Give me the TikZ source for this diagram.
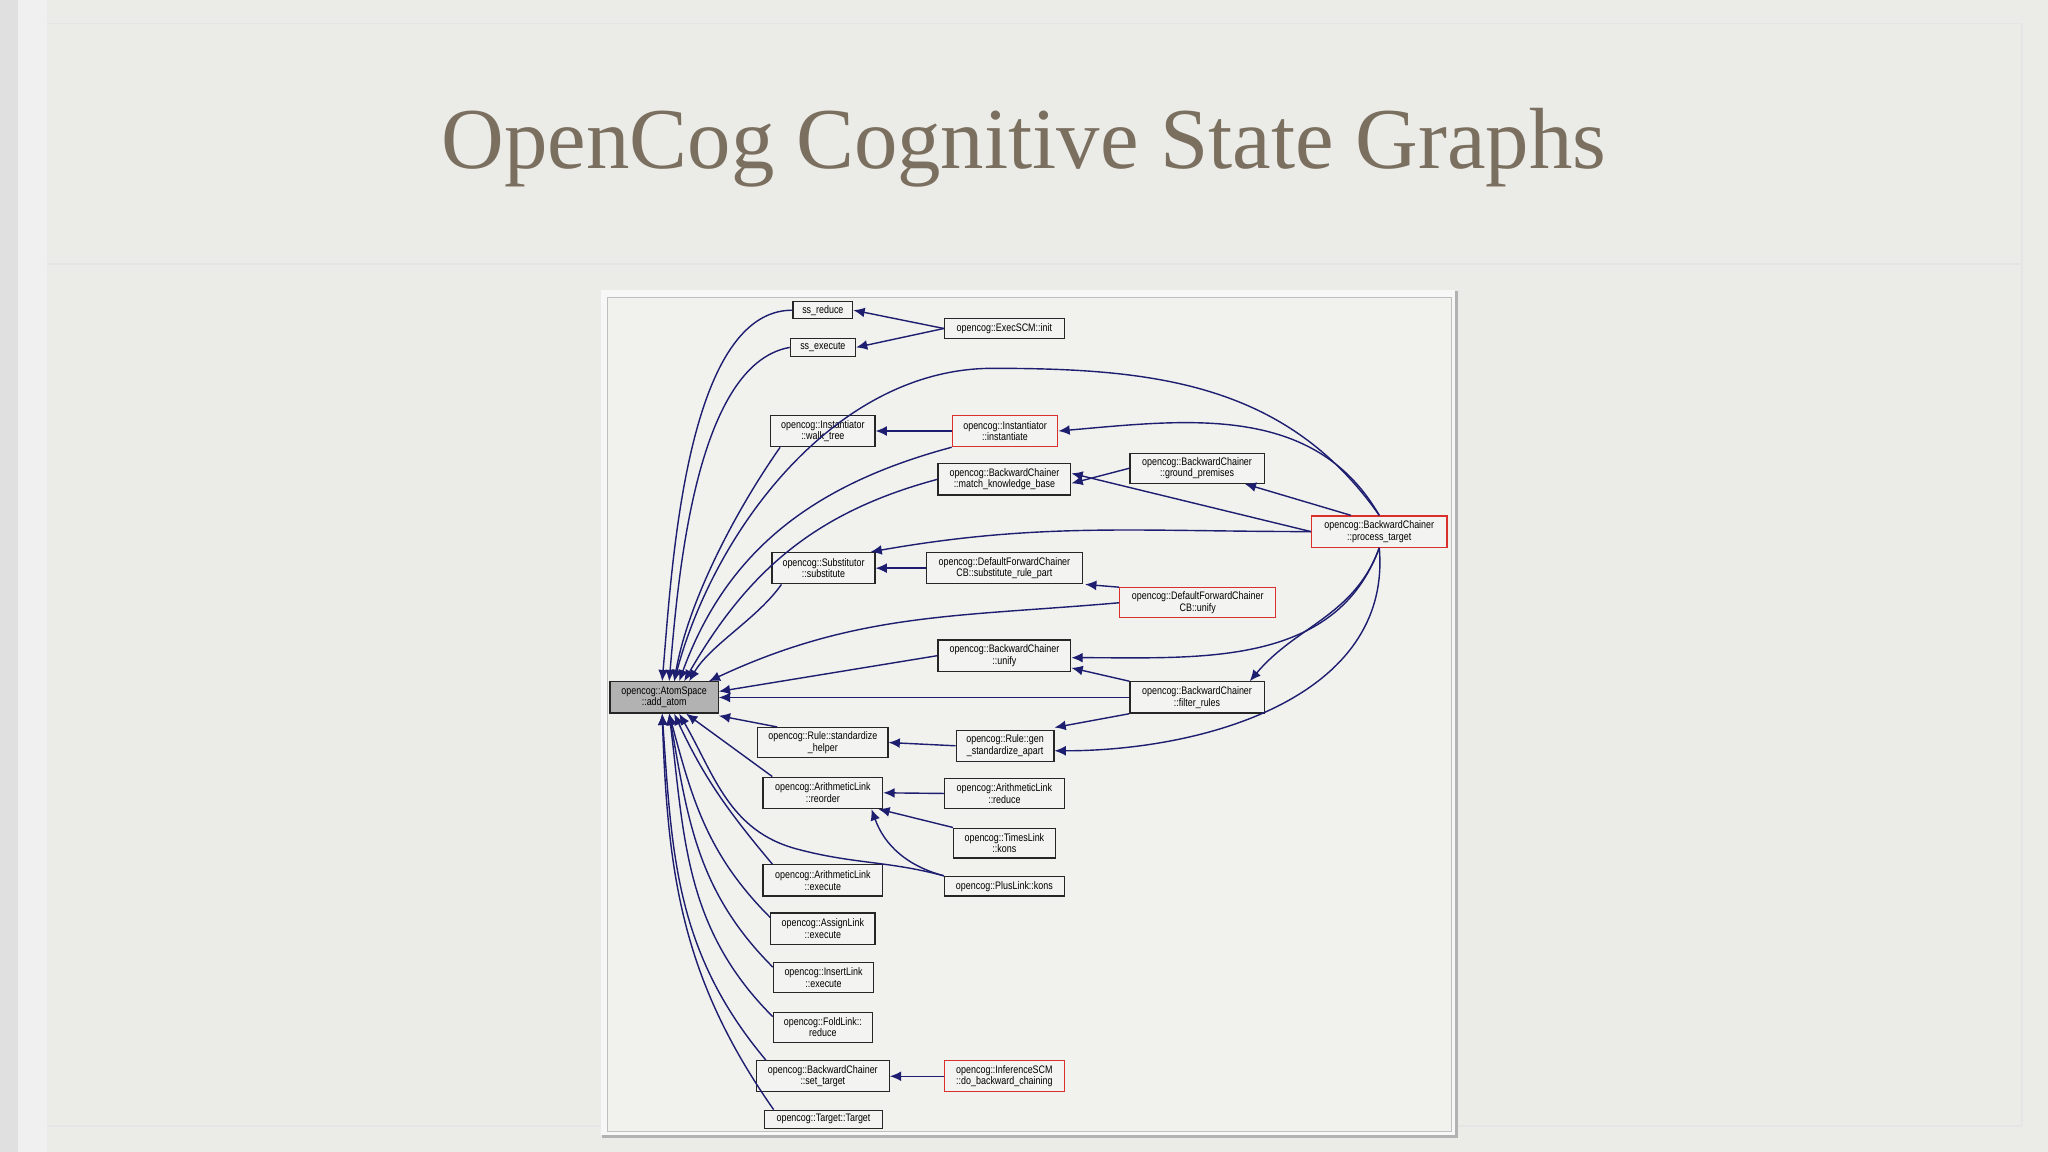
\documentclass[tikz,border=0pt]{standalone}
\usepackage{fontspec}
\setmainfont{Liberation Serif}
\newfontfamily\nodefont[FakeStretch=0.82]{Liberation Sans}
\usetikzlibrary{arrows.meta}
\definecolor{slide}{HTML}{EBEBE7}
\definecolor{titlec}{HTML}{7B6F60}
\definecolor{edge}{HTML}{1E1E70}
\definecolor{redb}{HTML}{D9302C}
\tikzset{
 bx/.style={draw=black!85,line width=0.35pt,fill=slide!60!white,inner sep=0pt,align=center,
   font=\nodefont\fontsize{3.1}{3.3}\selectfont},
 rbx/.style={bx,draw=redb},
 gbx/.style={bx,fill=black!30},
 e/.style={draw=edge,line width=0.4pt,-{Latex[length=3.2pt,width=2.8pt]}},
}
\begin{document}
\begin{tikzpicture}[x=0.013061cm,y=-0.013061cm]
\useasboundingbox (0,0) rectangle (1568,882);
\fill[slide] (0,0) rectangle (1568,882);
\fill[black!12] (0,0) rectangle (14,882);
\fill[black!6] (14,0) rectangle (36,882);
\draw[black!10,line width=0.5pt] (36,18) -- (1548,18);
\draw[black!10,line width=0.5pt] (36,202) -- (1548,202);
\draw[black!10,line width=0.5pt] (36,862) -- (1548,862);
\draw[black!10,line width=0.5pt] (1548,18) -- (1548,862);
\node[text=titlec,font=\fontsize{24.7}{27}\selectfont] (title) at (784,113) {OpenCog Cognitive State Graphs};
% frame
\fill[black!30] (461,223) rectangle (1116,871);
\fill[white!97!black] (460,222) rectangle (1114,869);
\fill[slide!70!white] (465,228) rectangle (1111,866);
\draw[black!25,line width=0.3pt] (465,228) rectangle (1111,866);
% nodes
\newcommand\nd[7]{\node[#6,minimum width=#4*0.3706pt,minimum height=#5*0.3706pt] (#1) at (#2,#3) {#7};}
\nd{ssr}{630}{237.5}{46}{13}{bx}{ss\_reduce}
\nd{exe}{769}{251.5}{92}{15}{bx}{opencog::ExecSCM::init}
\nd{sse}{630}{266}{50}{14}{bx}{ss\_execute}
\nd{wt}{630}{330}{80}{24}{bx}{opencog::Instantiator\\::walk\_tree}
\nd{ins}{769.5}{330}{81}{24}{rbx}{opencog::Instantiator\\::instantiate}
\nd{mkb}{769}{367}{102}{24}{bx}{opencog::BackwardChainer\\::match\_knowledge\_base}
\nd{gp}{916.5}{358.5}{103}{23}{bx}{opencog::BackwardChainer\\::ground\_premises}
\nd{pt}{1056}{407}{104}{24}{rbx}{opencog::BackwardChainer\\::process\_target}
\nd{sub}{630.5}{435}{79}{24}{bx}{opencog::Substitutor\\::substitute}
\nd{srp}{769}{435}{120}{24}{bx}{opencog::DefaultForwardChainer\\CB::substitute\_rule\_part}
\nd{dfu}{917}{461.5}{120}{23}{rbx}{opencog::DefaultForwardChainer\\CB::unify}
\nd{bcu}{769}{502}{102}{24}{bx}{opencog::BackwardChainer\\::unify}
\nd{aa}{508.5}{534}{83}{24}{gbx}{opencog::AtomSpace\\::add\_atom}
\nd{fr}{916.5}{534}{103}{24}{bx}{opencog::BackwardChainer\\::filter\_rules}
\nd{sh}{630}{568.5}{100}{23}{bx}{opencog::Rule::standardize\\\_helper}
\nd{gsa}{769.5}{571}{75}{24}{bx}{opencog::Rule::gen\\\_standardize\_apart}
\nd{reo}{630}{607}{92}{24}{bx}{opencog::ArithmeticLink\\::reorder}
\nd{ared}{769}{607.5}{92}{23}{bx}{opencog::ArithmeticLink\\::reduce}
\nd{tk}{769}{645.5}{78}{23}{bx}{opencog::TimesLink\\::kons}
\nd{aex}{630}{674}{92}{24}{bx}{opencog::ArithmeticLink\\::execute}
\nd{pk}{769}{678.5}{92}{15}{bx}{opencog::PlusLink::kons}
\nd{asg}{630}{711}{80}{24}{bx}{opencog::AssignLink\\::execute}
\nd{inl}{630.5}{748.5}{77}{23}{bx}{opencog::InsertLink\\::execute}
\nd{fol}{630}{786.5}{76}{23}{bx}{opencog::FoldLink::\\reduce}
\nd{st}{630}{824}{102}{24}{bx}{opencog::BackwardChainer\\::set\_target}
\nd{isc}{769}{824}{92}{24}{rbx}{opencog::InferenceSCM\\::do\_backward\_chaining}
\nd{tt}{630.5}{857}{91}{14}{bx}{opencog::Target::Target}
% edges
\coordinate (aat) at ([xshift=0.05cm]aa.north);
\coordinate (aab) at ([xshift=0.05cm]aa.south);
\path[e] (exe.west) -- (ssr.east);
\path[e] (exe.west) -- (sse.east);
\path[e] (ssr.west) to[out=180,in=85,looseness=0.7] ([xshift=-0.02cm]aa.north);
\path[e] (sse.west) to[out=190,in=85,looseness=0.7] (aat);
\path[e] (pt.north) to[out=125,in=0] (760,282) to[out=180,in=75,looseness=0.9] ([xshift=0.1cm]aa.north);
\path[e] (ins.west) -- (wt.east);
\path[e] (pt.north) to[out=120,in=5] (ins.east);
\path[e] ([xshift=0.1cm]wt.south west) to[out=235,in=80,looseness=0.8] ([xshift=0.1cm]aa.north);
\path[e] (ins.south west) to[out=195,in=70] ([xshift=0.15cm]aa.north);
\path[e] (gp.west) -- ([yshift=-0.04cm]mkb.east);
\path[e] ([xshift=0.4cm]pt.north west) -- ([xshift=-0.2cm]gp.south east);
\path[e] (pt.west) -- ([yshift=0.06cm]mkb.east);
\path[e] (mkb.west) to[out=195,in=60] ([xshift=0.2cm]aa.north);
\path[e] (pt.west) to[out=180,in=10] ([xshift=-0.05cm]sub.north east);
\path[e] (srp.west) -- (sub.east);
\path[e] (dfu.north west) -- ([xshift=0.02cm]srp.south east);
\path[e] ([xshift=0.1cm]sub.south west) to[out=235,in=60,looseness=0.8] ([xshift=0.25cm]aa.north);
\path[e] (dfu.west) to[out=185,in=25] ([xshift=-0.1cm]aa.north east);
\path[e] (pt.south) to[out=250,in=0] ([yshift=-0.02cm]bcu.east);
\path[e] (pt.south) to[out=250,in=50] ([xshift=-0.15cm]fr.north east);
\path[e] (pt.south) to[out=275,in=0] ([yshift=-0.05cm]gsa.east);
\path[e] (bcu.west) -- ([yshift=0.06cm]aa.east);
\path[e] (fr.north west) -- ([yshift=0.04cm]bcu.south east);
\path[e] (fr.west) -- (aa.east);
\path[e] (fr.south west) -- ([yshift=0.02cm]gsa.north east);
\path[e] ([xshift=0.2cm]sh.north west) -- ([yshift=-0.02cm]aa.south east);
\path[e] (gsa.west) -- (sh.east);
\path[e] ([xshift=0.1cm]reo.north west) -- ([xshift=0.22cm]aa.south);
\path[e] (ared.west) -- (reo.east);
\path[e] (tk.north west) -- ([xshift=-0.05cm]reo.south east);
\path[e] (pk.north west) to[out=165,in=290] ([xshift=-0.12cm]reo.south east);
\path[e] (pk.north west) to[out=165,in=-15] (610,650) to[out=165,in=300] ([xshift=0.15cm]aa.south);
\path[e] ([xshift=0.1cm]aex.north west) to[out=130,in=295] ([xshift=0.1cm]aa.south);
\path[e] ([yshift=-0.05cm]asg.north west) to[out=135,in=285] (aab);
\path[e] ([yshift=-0.05cm]inl.north west) to[out=135,in=280] (aab);
\path[e] ([yshift=-0.05cm]fol.north west) to[out=135,in=277] (aab);
\path[e] (isc.west) -- (st.east);
\path[e] ([xshift=0.1cm]st.north west) to[out=130,in=274] ([xshift=-0.02cm]aa.south);
\path[e] ([xshift=0.1cm]tt.north west) to[out=125,in=272] ([xshift=-0.02cm]aa.south);
\end{tikzpicture}
\end{document}
